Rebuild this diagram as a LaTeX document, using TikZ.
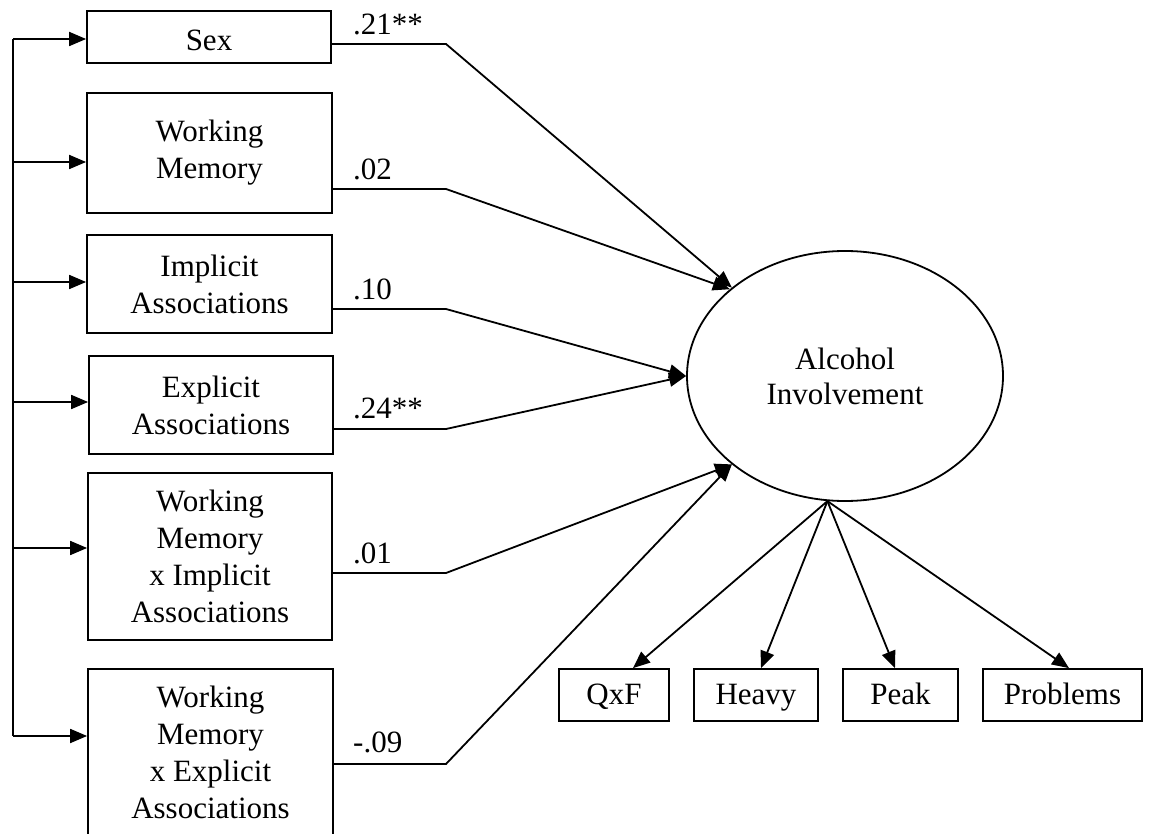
\documentclass[tikz,border=0pt]{standalone}
\usepackage{fontspec}
\setmainfont{Liberation Serif}
\usetikzlibrary{arrows.meta,shapes.geometric,calc}
\begin{document}
\begin{tikzpicture}[x=1pt,y=-1pt,
  box/.style={draw, line width=1.8pt, inner sep=0pt, align=center, font=\fontsize{31}{37}\selectfont},
  onebox/.style={box, text height=19pt, text depth=0pt},
  lab/.style={anchor=base west, inner sep=0pt, font=\fontsize{31}{37}\selectfont},
  conn/.style={line width=1.8pt},
  arr/.style={line width=1.8pt, -{Triangle[length=17pt,width=14pt]}}]
\fill[white] (0,0) rectangle (1149,834);
\useasboundingbox (0,0) rectangle (1149,834);
% predictor boxes
\node[box, text height=28pt, text depth=0pt, minimum width=244pt, minimum height=52pt] (sex) at (209,37) {Sex};
\node[box, minimum width=245pt, minimum height=120pt] (wm) at (209.5,153) {Working\\Memory};
\node[box, minimum width=245pt, minimum height=98pt] (impl) at (209.5,284) {Implicit\\Associations};
\node[box, minimum width=244pt, minimum height=98pt] (expl) at (211,405) {Explicit\\Associations};
\node[box, minimum width=244pt, minimum height=167pt] (wmi) at (210,556.5) {Working\\Memory\\x Implicit\\Associations};
\node[box, minimum width=245pt, minimum height=167pt] (wme) at (210.5,752.5) {Working\\Memory\\x Explicit\\Associations};
% latent variable
\node[draw, ellipse, line width=1.8pt, minimum width=316pt, minimum height=250pt, inner sep=0pt, align=center, font=\fontsize{31}{35}\selectfont] (alc) at (845,376) {Alcohol\\Involvement};
% indicators
\node[onebox, minimum width=110pt, minimum height=52pt] (qxf) at (614,695) {QxF};
\node[onebox, minimum width=124pt, minimum height=52pt] (heavy) at (756,695) {Heavy};
\node[onebox, minimum width=115pt, minimum height=52pt] (peak) at (900.5,695) {Peak};
\node[onebox, minimum width=159pt, minimum height=52pt] (prob) at (1062.5,695) {Problems};
% coefficient labels
\node[lab] (c1) at (353,35) {.21**};
\node[lab] (c2) at (353,180) {.02};
\node[lab] (c3) at (353,300) {.10};
\node[lab] (c4) at (353,418) {.24**};
\node[lab] (c5) at (353,563) {.01};
\node[lab] (c6) at (353,752) {-.09};
% bend points
\coordinate (k1) at (446,44);
\coordinate (k2) at (446,189);
\coordinate (k3) at (446,309);
\coordinate (k4) at (446,429);
\coordinate (k5) at (446,573);
\coordinate (k6) at (446,764);
\draw[arr] (k1 -| sex.east) -- (k1) -- (alc.142);
\draw[arr] (k2 -| wm.east) -- (k2) -- (alc.143);
\draw[arr] (k3 -| impl.east) -- (k3) -- (alc.180);
\draw[arr] (k4 -| expl.east) -- (k4) -- (alc.180);
\draw[arr] (k5 -| wmi.east) -- (k5) -- (alc.218);
\draw[arr] (k6 -| wme.east) -- (k6) -- (alc.218);
% left correlation spine
\coordinate (s1) at (13,39);
\coordinate (s2) at (13,162);
\coordinate (s3) at (13,282);
\coordinate (s4) at (13,402);
\coordinate (s5) at (13,548);
\coordinate (s6) at (13,736);
\draw[conn] (s1) -- (s6);
\draw[arr] (s1) -- (s1 -| sex.west);
\draw[arr] (s2) -- (s2 -| wm.west);
\draw[arr] (s3) -- (s3 -| impl.west);
\draw[arr] (s4) -- (s4 -| expl.west);
\draw[arr] (s5) -- (s5 -| wmi.west);
\draw[arr] (s6) -- (s6 -| wme.west);
% loadings
\draw[arr] (alc.262) -- ($(qxf.north)+(19,0)$);
\draw[arr] (alc.262) -- ($(heavy.north)+(5,0)$);
\draw[arr] (alc.262) -- ($(peak.north)+(-5.5,0)$);
\draw[arr] (alc.262) -- ($(prob.north)+(6.5,0)$);
\end{tikzpicture}
\end{document}
